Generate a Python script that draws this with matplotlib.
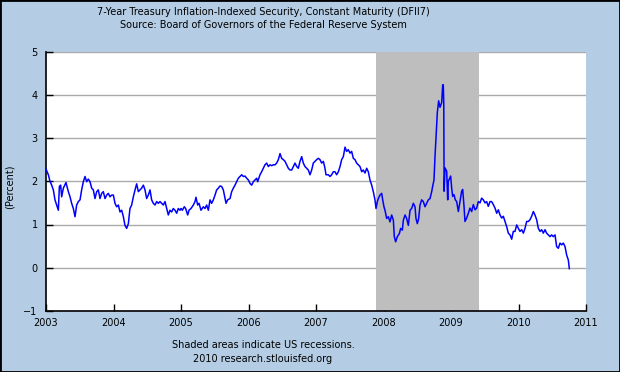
import matplotlib as mpl
mpl.use('Agg')
import matplotlib.pyplot as plt
import numpy as np

# 7-year TIPS yield (DFII7), x in decimal years
years = [
    2003.000, 2003.035, 2003.059, 2003.084, 2003.109, 2003.133, 2003.158, 2003.183, 2003.198, 2003.217,
    2003.232, 2003.257, 2003.296, 2003.331, 2003.356, 2003.380, 2003.405, 2003.430, 2003.454, 2003.479,
    2003.504, 2003.528, 2003.553, 2003.578, 2003.602, 2003.627, 2003.652, 2003.677, 2003.701, 2003.726,
    2003.751, 2003.775, 2003.800, 2003.825, 2003.849, 2003.874, 2003.899, 2003.923, 2003.948, 2003.973,
    2003.998, 2004.022, 2004.047, 2004.072, 2004.096, 2004.121, 2004.146, 2004.170, 2004.195, 2004.220,
    2004.244, 2004.269, 2004.294, 2004.319, 2004.343, 2004.368, 2004.393, 2004.417, 2004.442, 2004.467,
    2004.491, 2004.516, 2004.541, 2004.565, 2004.590, 2004.615, 2004.640, 2004.664, 2004.689, 2004.714,
    2004.738, 2004.763, 2004.788, 2004.812, 2004.837, 2004.862, 2004.886, 2004.911, 2004.936, 2004.960,
    2004.985,
    2005.000, 2005.020, 2005.049, 2005.069, 2005.099, 2005.119, 2005.148, 2005.183, 2005.207, 2005.222,
    2005.247, 2005.267, 2005.296, 2005.331, 2005.356, 2005.380, 2005.405, 2005.430, 2005.454, 2005.479,
    2005.504, 2005.528, 2005.553, 2005.578, 2005.602, 2005.627, 2005.652, 2005.667, 2005.691, 2005.726,
    2005.751, 2005.775, 2005.800, 2005.825, 2005.849, 2005.874, 2005.899, 2005.923, 2005.948, 2005.973,
    2005.998, 2006.022, 2006.047, 2006.072, 2006.096, 2006.121, 2006.136, 2006.170, 2006.195, 2006.220,
    2006.244, 2006.269, 2006.294, 2006.319, 2006.343, 2006.368, 2006.393, 2006.417, 2006.442, 2006.467,
    2006.491, 2006.516, 2006.541, 2006.565, 2006.590, 2006.615, 2006.640, 2006.664, 2006.689, 2006.714,
    2006.738, 2006.763, 2006.788, 2006.812, 2006.837, 2006.862, 2006.886, 2006.911, 2006.936, 2006.960,
    2006.985,
    2007.010, 2007.035, 2007.059, 2007.084, 2007.109, 2007.133, 2007.148, 2007.183, 2007.207, 2007.232,
    2007.257, 2007.281, 2007.306, 2007.331, 2007.356, 2007.380, 2007.405, 2007.430, 2007.454, 2007.479,
    2007.504, 2007.528, 2007.553, 2007.578, 2007.602, 2007.627, 2007.652, 2007.677, 2007.701, 2007.726,
    2007.751, 2007.775, 2007.800, 2007.825, 2007.849, 2007.874, 2007.889, 2007.909, 2007.923, 2007.948,
    2007.973, 2007.988, 2008.007, 2008.022, 2008.047, 2008.072, 2008.096, 2008.121, 2008.146, 2008.160,
    2008.180, 2008.205, 2008.235, 2008.254, 2008.279, 2008.294, 2008.319, 2008.343, 2008.368, 2008.393,
    2008.417, 2008.442, 2008.467, 2008.481, 2008.501, 2008.521, 2008.541, 2008.565, 2008.590, 2008.615,
    2008.640, 2008.664, 2008.689, 2008.714, 2008.728, 2008.748, 2008.763, 2008.778, 2008.798, 2008.817,
    2008.837, 2008.862, 2008.877, 2008.886, 2008.893, 2008.898, 2008.911, 2008.936, 2008.951, 2008.960,
    2008.995,
    2009.010, 2009.025, 2009.044, 2009.064, 2009.084, 2009.109, 2009.133, 2009.158, 2009.173, 2009.193,
    2009.207, 2009.232, 2009.257, 2009.281, 2009.306, 2009.331, 2009.356, 2009.380, 2009.405, 2009.430,
    2009.454, 2009.479, 2009.504, 2009.528, 2009.553, 2009.578, 2009.602, 2009.627, 2009.652, 2009.677,
    2009.701, 2009.726, 2009.751, 2009.775, 2009.800, 2009.825, 2009.849, 2009.874, 2009.899, 2009.923,
    2009.948, 2009.973, 2009.998, 2010.022, 2010.047, 2010.072, 2010.096, 2010.121, 2010.146, 2010.170,
    2010.195, 2010.220, 2010.244, 2010.269, 2010.294, 2010.319, 2010.343, 2010.368, 2010.393, 2010.417,
    2010.442, 2010.467, 2010.491, 2010.516, 2010.541, 2010.565, 2010.590, 2010.615, 2010.640, 2010.664,
    2010.689, 2010.714, 2010.738, 2010.753,
]
yields = [
    2.28, 2.15, 2.00, 1.91, 1.80, 1.57, 1.45, 1.33, 1.88, 1.91,
    1.64, 1.84, 1.97, 1.76, 1.64, 1.49, 1.37, 1.18, 1.45, 1.53,
    1.57, 1.80, 1.99, 2.11, 1.99, 2.05, 1.99, 1.84, 1.80, 1.60,
    1.76, 1.80, 1.60, 1.72, 1.76, 1.60, 1.68, 1.72, 1.64, 1.68,
    1.68, 1.49, 1.41, 1.45, 1.29, 1.33, 1.18, 0.98, 0.91, 1.02,
    1.37, 1.45, 1.64, 1.80, 1.94, 1.76, 1.80, 1.84, 1.91, 1.80,
    1.60, 1.68, 1.80, 1.57, 1.49, 1.45, 1.53, 1.49, 1.53, 1.49,
    1.45, 1.53, 1.37, 1.22, 1.33, 1.29, 1.37, 1.33, 1.26, 1.37,
    1.33,
    1.37, 1.33, 1.41, 1.37, 1.22, 1.33, 1.37, 1.45, 1.53, 1.63,
    1.45, 1.49, 1.33, 1.41, 1.37, 1.45, 1.33, 1.57, 1.49, 1.57,
    1.68, 1.80, 1.84, 1.89, 1.88, 1.80, 1.60, 1.49, 1.57, 1.60,
    1.76, 1.84, 1.91, 1.99, 2.07, 2.11, 2.15, 2.11, 2.12, 2.07,
    2.03, 1.95, 1.91, 1.99, 2.03, 2.07, 1.99, 2.15, 2.22, 2.30,
    2.38, 2.42, 2.34, 2.38, 2.36, 2.38, 2.38, 2.42, 2.50, 2.64,
    2.53, 2.50, 2.46, 2.38, 2.30, 2.26, 2.26, 2.34, 2.42, 2.34,
    2.30, 2.46, 2.57, 2.42, 2.34, 2.30, 2.26, 2.15, 2.26, 2.42,
    2.46,
    2.50, 2.53, 2.50, 2.42, 2.46, 2.30, 2.15, 2.15, 2.11, 2.15,
    2.22, 2.22, 2.15, 2.22, 2.34, 2.50, 2.57, 2.79, 2.69, 2.73,
    2.65, 2.69, 2.53, 2.50, 2.42, 2.38, 2.34, 2.22, 2.26, 2.19,
    2.30, 2.22, 2.03, 1.91, 1.76, 1.57, 1.37, 1.53, 1.60, 1.68,
    1.72, 1.57, 1.41, 1.33, 1.14, 1.18, 1.06, 1.22, 1.10, 0.72,
    0.60, 0.72, 0.79, 0.91, 0.87, 1.10, 1.22, 1.14, 0.98, 1.33,
    1.37, 1.49, 1.41, 1.14, 1.02, 1.14, 1.45, 1.57, 1.53, 1.41,
    1.49, 1.57, 1.60, 1.76, 1.88, 2.03, 2.57, 3.00, 3.60, 3.86,
    3.71, 3.82, 4.23, 4.23, 3.78, 1.77, 2.31, 2.23, 1.57, 2.00,
    2.12,
    1.84, 1.65, 1.69, 1.57, 1.53, 1.30, 1.53, 1.77, 1.81, 1.42,
    1.07, 1.15, 1.26, 1.38, 1.30, 1.46, 1.34, 1.38, 1.53, 1.50,
    1.61, 1.57, 1.50, 1.53, 1.42, 1.53, 1.53, 1.46, 1.38, 1.26,
    1.34, 1.22, 1.15, 1.19, 1.07, 0.95, 0.80, 0.76, 0.66, 0.84,
    0.84, 0.99, 0.91, 0.84, 0.88, 0.80, 0.91, 1.07, 1.07, 1.11,
    1.19, 1.30, 1.22, 1.11, 0.91, 0.84, 0.88, 0.80, 0.88, 0.80,
    0.76, 0.72, 0.76, 0.72, 0.76, 0.49, 0.45, 0.57, 0.53, 0.57,
    0.49, 0.29, 0.18, -0.02,
]
recession = (2007.89, 2009.41)   # Dec 2007 - Jun 2009
year_ticks = list(range(2003, 2012))
pct_ticks = [-1, 0, 1, 2, 3, 4, 5]

bg = '#B4CDE5'
plt.rcParams['font.family'] = 'DejaVu Sans'
plt.rcParams['font.size'] = 7

fig = plt.figure(figsize=(6.2, 3.72), dpi=100, facecolor=bg)
fig.patches.append(plt.Rectangle((0, 0), 1, 1, transform=fig.transFigure,
                                 fill=False, edgecolor='black', linewidth=2))
ax = fig.add_axes([46 / 620, 1 - 311 / 372, 540 / 620, 259.5 / 372])

ax.axvspan(recession[0], recession[1], color='#BEBEBE', zorder=2, lw=0)
ax.plot(years, yields, color='#0000FF', linewidth=1.1, zorder=3)

ax.set_xlim(2003, 2011)
ax.set_ylim(-1, 5)
ax.set_xticks(year_ticks)
ax.set_yticks(pct_ticks)
ax.yaxis.grid(True, color='#AAAAAA', linewidth=1, zorder=1)
ax.set_axisbelow(True)
ax.tick_params(direction='in', length=5, width=1, color='black',
               labelsize=7, colors='black')
ax.tick_params(axis='x', pad=5)
ax.tick_params(axis='y', pad=6)
for s in ['top', 'right']:
    ax.spines[s].set_visible(False)
for s in ['left', 'bottom']:
    ax.spines[s].set_linewidth(1.2)

fig.text(10 / 620, 1 - 187 / 372, '(Percent)', rotation=90,
         ha='center', va='center', fontsize=7)

cx = 263 / 620
fig.text(cx, 1 - 12 / 372, '7-Year Treasury Inflation-Indexed Security, Constant Maturity (DFII7)',
         ha='center', va='center')
fig.text(cx, 1 - 25 / 372, 'Source: Board of Governors of the Federal Reserve System',
         ha='center', va='center')
fig.text(cx, 1 - 345.5 / 372, 'Shaded areas indicate US recessions.',
         ha='center', va='center')
fig.text(cx, 1 - 359 / 372, '2010 research.stlouisfed.org',
         ha='center', va='center')

fig.savefig('out.png', dpi=100, facecolor=bg)
